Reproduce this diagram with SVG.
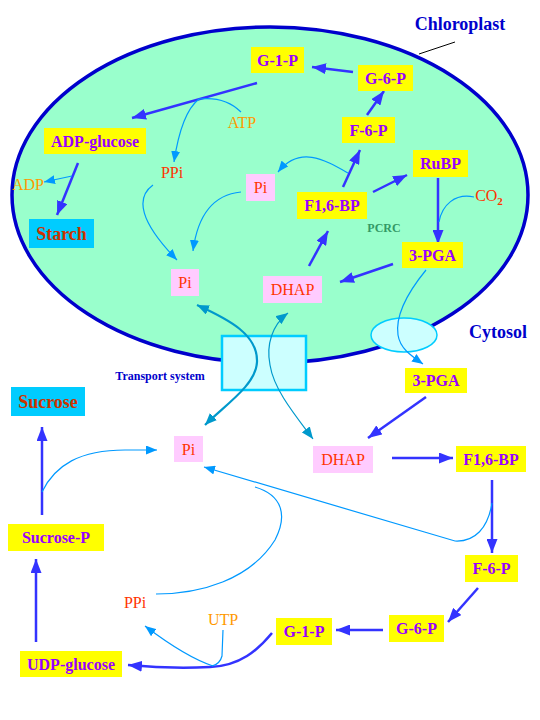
<svg xmlns="http://www.w3.org/2000/svg" width="540" height="720" viewBox="0 0 540 720">
<style>
text{font-family:"Liberation Serif","Times New Roman",serif;text-anchor:middle}
.y{fill:#FFFF00}
.p{fill:#FFCCFF}
.c{fill:#00CCFF}
.tp{fill:#9900FF;font-size:16px;font-weight:bold}
.tr{fill:#FF3300;font-size:16px}
.ts{fill:#CC3300;font-size:18px;font-weight:bold}
.to{fill:#FF9900;font-size:16px}
.lab{fill:#0000CC;font-weight:bold}
.b{fill:none;stroke:#3333FF;stroke-width:2.5;marker-end:url(#arrB)}
.l{fill:none;stroke:#0099FF;stroke-width:1.2}
.la{marker-end:url(#arrL)}
.t{fill:none;stroke:#0099CC;marker-start:url(#arrT);marker-end:url(#arrT)}
</style>
<defs>
<marker id="arrB" markerUnits="userSpaceOnUse" markerWidth="14" markerHeight="11" refX="14" refY="5.5" orient="auto"><path d="M0,0 L14,5.5 L0,11 z" fill="#3333FF"/></marker>
<marker id="arrL" markerUnits="userSpaceOnUse" markerWidth="11" markerHeight="9" refX="11" refY="4.5" orient="auto"><path d="M0,0 L11,4.5 L0,9 z" fill="#0099FF"/></marker>
<marker id="arrT" markerUnits="userSpaceOnUse" markerWidth="12" markerHeight="10" refX="12" refY="5" orient="auto-start-reverse"><path d="M0,0 L12,5 L0,10 z" fill="#0099CC"/></marker>
</defs>
<rect width="540" height="720" fill="#FFFFFF"/>

<g id="chloroplast">
<ellipse cx="270" cy="195" rx="258" ry="168" fill="#99FFCC" stroke="#0000CC" stroke-width="3.5"/>
</g>
<g id="transport-box"><rect x="222" y="336" width="84" height="54" fill="#CCFFFF" stroke="#00CCFF" stroke-width="2.5"/></g>
<g id="transport-ellipse"><ellipse cx="404" cy="335" rx="33" ry="17" fill="#CCFFFF" stroke="#00CCFF" stroke-width="1.5"/></g>

<g id="labels">
<text class="lab" x="460" y="30" font-size="18">Chloroplast</text>
<line x1="455" y1="42" x2="419" y2="54" stroke="#000000" stroke-width="1"/>
<text class="lab" x="498" y="338" font-size="18">Cytosol</text>
<text class="lab" x="160" y="380" font-size="12">Transport system</text>
<text x="384" y="232" font-size="12" font-weight="bold" fill="#339966">PCRC</text>
<text class="to" x="242" y="128">ATP</text>
<text class="to" x="28" y="190" font-size="12">ADP</text>
<text class="to" x="223" y="625">UTP</text>
<text class="tr" x="172" y="178">PPi</text>
<text class="tr" x="135" y="608">PPi</text>
<text class="tr" x="489" y="201">CO<tspan font-size="11" font-weight="bold" dy="4">2</tspan></text>
</g>

<g id="connectors">
<path class="b" d="M353,72 L312,67"/>
<path class="b" d="M367,115 L384,91"/>
<path class="b" d="M343,187 L360,150"/>
<path class="b" d="M373,192 L407,175"/>
<path class="b" d="M438,178 L438,244"/>
<path class="b" d="M393,264 L340,282"/>
<path class="b" d="M309,266 L328,231"/>
<path class="b" d="M257,83 L132,118"/>
<path class="b" d="M78,163 L57,215"/>
<path class="l la" d="M72,176 L44,182"/>
<path class="l" d="M241,112 Q225,96 199,99"/>
<path class="l la" d="M199,99 C185,110 178,135 174,162"/>
<path class="l la" d="M153,185 C135,198 140,222 177,260"/>
<path class="l la" d="M241,192 C210,195 197,220 193,251"/>
<path class="l la" d="M348,173 C325,160 300,145 278,172"/>
<path class="l" d="M474,197 C455,193 442,205 439,222"/>
<path class="l la" d="M426,270 C408,292 395,315 398,335 C400,348 410,355 423,364"/>
<path class="t" stroke-width="2.2" d="M197,305 C230,320 258,335 257,362 C256,385 225,405 205,425"/>
<path class="t" stroke-width="1.2" d="M288,313 C272,325 266,345 270,365 C274,390 295,415 313,439"/>
<path class="b" d="M426,397 L368,438"/>
<path class="b" d="M392,458 L453,458"/>
<path class="b" d="M492,480 L492,553"/>
<path class="b" d="M478,588 L448,622"/>
<path class="b" d="M383,630 L336,630"/>
<path class="b" stroke-width="3" d="M272,633 C258,650 240,666 210,667 C190,668 160,668 128,665"/>
<path class="l" d="M223,630 L222,656 Q220,664 212,666"/>
<path class="l la" d="M213,666 C195,660 170,645 145,626"/>
<path class="b" d="M36,642 L36,559"/>
<path class="b" d="M42,515 L42,427"/>
<path class="l la" d="M42,492 C55,465 80,450 125,450 L157,450"/>
<path class="l la" d="M492,503 C488,528 475,542 455,541 L204,467"/>
<path class="l" d="M156,594 C200,594 250,580 275,540 C288,515 282,495 255,487"/>
</g>

<g id="G1P-c"><rect class="y" x="251" y="47" width="53" height="26"/><text class="tp" x="277.5" y="65.5">G-1-P</text></g>
<g id="G6P-c"><rect class="y" x="358" y="65" width="55" height="26"/><text class="tp" x="385.5" y="83.5">G-6-P</text></g>
<g id="F6P-c"><rect class="y" x="342" y="117" width="53" height="26"/><text class="tp" x="368.5" y="135.5">F-6-P</text></g>
<g id="RuBP"><rect class="y" x="413" y="150" width="55" height="27"/><text class="tp" x="440.5" y="169">RuBP</text></g>
<g id="ADPglucose"><rect class="y" x="44" y="128" width="102" height="26"/><text class="tp" x="95" y="146.5">ADP-glucose</text></g>
<g id="Starch"><rect class="c" x="29" y="219" width="65" height="29"/><text class="ts" x="61.5" y="240">Starch</text></g>
<g id="Pi-c1"><rect class="p" x="246" y="174" width="29" height="27"/><text class="tr" x="260.5" y="193">Pi</text></g>
<g id="F16BP-c"><rect class="y" x="297" y="192" width="70" height="27"/><text class="tp" x="332" y="211">F1,6-BP</text></g>
<g id="PGA-c"><rect class="y" x="402" y="242" width="61" height="26"/><text class="tp" x="432.5" y="260.5">3-PGA</text></g>
<g id="DHAP-c"><rect class="p" x="263" y="276" width="59" height="27"/><text class="tr" x="292.5" y="295">DHAP</text></g>
<g id="Pi-c2"><rect class="p" x="171" y="269" width="28" height="27"/><text class="tr" x="185" y="288">Pi</text></g>

<g id="Sucrose"><rect class="c" x="11" y="387" width="74" height="29"/><text class="ts" x="48" y="408">Sucrose</text></g>
<g id="Pi-cyt"><rect class="p" x="174" y="436" width="29" height="26"/><text class="tr" x="188.5" y="454.5">Pi</text></g>
<g id="PGA-cyt"><rect class="y" x="405" y="368" width="62" height="25"/><text class="tp" x="436" y="386">3-PGA</text></g>
<g id="DHAP-cyt"><rect class="p" x="313" y="446" width="60" height="27"/><text class="tr" x="343" y="465">DHAP</text></g>
<g id="F16BP-cyt"><rect class="y" x="456" y="446" width="70" height="26"/><text class="tp" x="491" y="464.5">F1,6-BP</text></g>
<g id="SucroseP"><rect class="y" x="8" y="524" width="96" height="27"/><text class="tp" x="56" y="543">Sucrose-P</text></g>
<g id="F6P-cyt"><rect class="y" x="465" y="555" width="53" height="27"/><text class="tp" x="491.5" y="574">F-6-P</text></g>
<g id="G6P-cyt"><rect class="y" x="389" y="615" width="55" height="27"/><text class="tp" x="416.5" y="634">G-6-P</text></g>
<g id="G1P-cyt"><rect class="y" x="276" y="618" width="56" height="27"/><text class="tp" x="304" y="637">G-1-P</text></g>
<g id="UDPglucose"><rect class="y" x="20" y="651" width="102" height="26"/><text class="tp" x="71" y="669.5">UDP-glucose</text></g>
</svg>
